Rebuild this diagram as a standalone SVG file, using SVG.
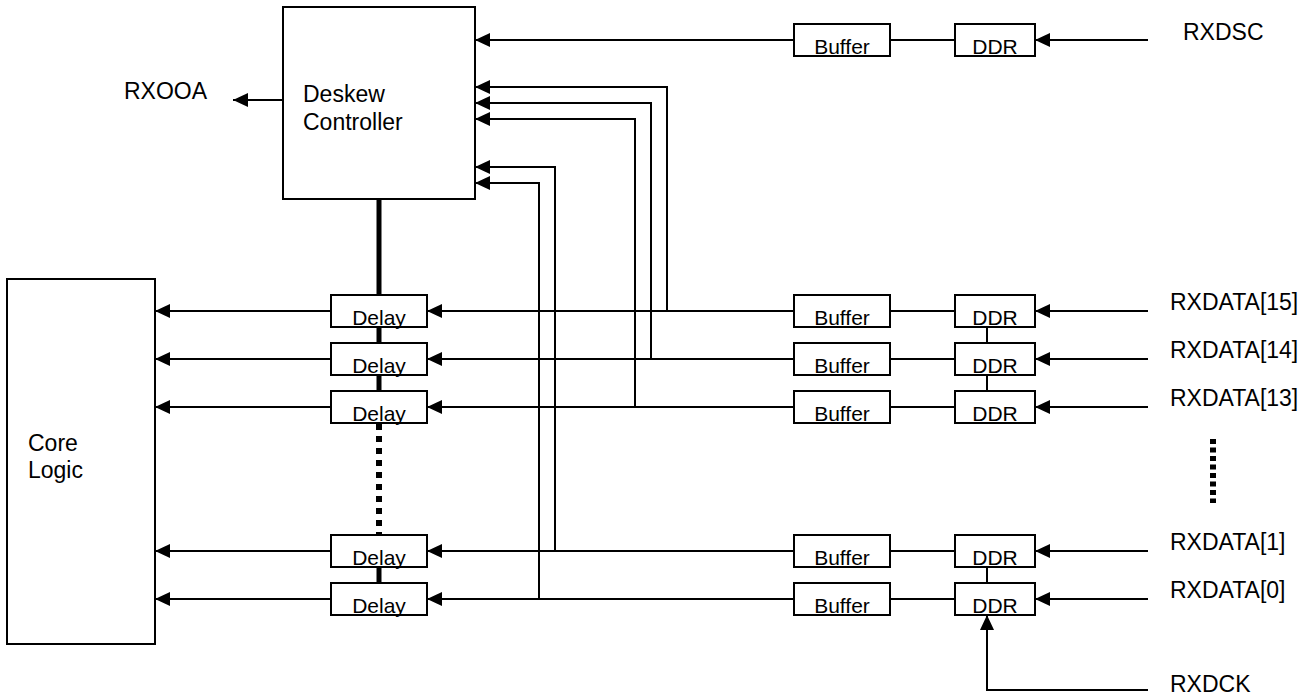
<svg xmlns="http://www.w3.org/2000/svg" width="1315" height="698" viewBox="0 0 1315 698">
<defs>
<marker id="ah" viewBox="0 0 15 14" refX="15" refY="7" markerWidth="15" markerHeight="14" markerUnits="userSpaceOnUse" orient="auto">
<path d="M0,0 L15,7 L0,14 z" fill="#000"/>
</marker>
</defs>
<style>
.box{fill:#fff;stroke:#000;stroke-width:2}
.ln{fill:none;stroke:#000;stroke-width:2}
.ar{fill:none;stroke:#000;stroke-width:2;marker-end:url(#ah)}
.thick{fill:none;stroke:#000;stroke-width:5}
.dots{fill:none;stroke:#000;stroke-width:6}
.lbl{font-family:"Liberation Sans",Arial,sans-serif;font-size:23px;fill:#000}
.bl{font-family:"Liberation Sans",Arial,sans-serif;font-size:21px;fill:#000;text-anchor:middle}
</style>
<rect width="1315" height="698" fill="#fff"/>

<g id="connectors">
<line class="thick" x1="379" y1="199" x2="379" y2="295"/>
<line class="thick" x1="379" y1="327" x2="379" y2="343"/>
<line class="thick" x1="379" y1="375" x2="379" y2="391"/>
<line class="dots" x1="379" y1="424" x2="379" y2="535" stroke-dasharray="6 6"/>
<line class="thick" x1="379" y1="567" x2="379" y2="583"/>
<line class="ar" x1="283" y1="100" x2="233" y2="100"/>
<line class="ar" x1="1148" y1="40" x2="1035" y2="40"/>
<line class="ln" x1="955" y1="40" x2="890" y2="40"/>
<line class="ar" x1="794" y1="40" x2="475" y2="40"/>
<line class="ar" x1="1148" y1="311" x2="1035" y2="311"/>
<line class="ln" x1="955" y1="311" x2="890" y2="311"/>
<line class="ar" x1="794" y1="311" x2="427" y2="311"/>
<line class="ar" x1="331" y1="311" x2="155" y2="311"/>
<line class="ar" x1="1148" y1="359" x2="1035" y2="359"/>
<line class="ln" x1="955" y1="359" x2="890" y2="359"/>
<line class="ar" x1="794" y1="359" x2="427" y2="359"/>
<line class="ar" x1="331" y1="359" x2="155" y2="359"/>
<line class="ar" x1="1148" y1="407" x2="1035" y2="407"/>
<line class="ln" x1="955" y1="407" x2="890" y2="407"/>
<line class="ar" x1="794" y1="407" x2="427" y2="407"/>
<line class="ar" x1="331" y1="407" x2="155" y2="407"/>
<line class="ar" x1="1148" y1="551" x2="1035" y2="551"/>
<line class="ln" x1="955" y1="551" x2="890" y2="551"/>
<line class="ar" x1="794" y1="551" x2="427" y2="551"/>
<line class="ar" x1="331" y1="551" x2="155" y2="551"/>
<line class="ar" x1="1148" y1="599" x2="1035" y2="599"/>
<line class="ln" x1="955" y1="599" x2="890" y2="599"/>
<line class="ar" x1="794" y1="599" x2="427" y2="599"/>
<line class="ar" x1="331" y1="599" x2="155" y2="599"/>
<polyline class="ar" points="667,311 667,87 475,87"/>
<polyline class="ar" points="651,359 651,103 475,103"/>
<polyline class="ar" points="635,407 635,119 475,119"/>
<polyline class="ar" points="555,551 555,167 475,167"/>
<polyline class="ar" points="539,599 539,183 475,183"/>
<line class="ln" x1="987" y1="327" x2="987" y2="343"/>
<line class="ln" x1="987" y1="375" x2="987" y2="391"/>
<line class="ln" x1="987" y1="567" x2="987" y2="583"/>
<polyline class="ar" points="1148,690 987,690 987,615"/>
<line class="dots" x1="1213" y1="439" x2="1213" y2="503" stroke-dasharray="5 3.5"/>
</g>

<g id="deskew">
<rect class="box" x="283" y="7" width="192" height="192"/>
<text class="lbl" x="303" y="102">Deskew</text>
<text class="lbl" x="303" y="130">Controller</text>
</g>
<g id="core">
<rect class="box" x="7" y="279" width="148" height="365"/>
<text class="lbl" x="28" y="451">Core</text>
<text class="lbl" x="28" y="478">Logic</text>
</g>

<g id="buffer-dsc"><rect class="box" x="794" y="24" width="96" height="32"/><text class="bl" x="842" y="54">Buffer</text></g>
<g id="ddr-dsc"><rect class="box" x="955" y="24" width="80" height="32"/><text class="bl" x="995" y="54">DDR</text></g>

<g id="delay-15"><rect class="box" x="331" y="295" width="96" height="32"/><text class="bl" x="379" y="325">Delay</text></g>
<g id="buffer-15"><rect class="box" x="794" y="295" width="96" height="32"/><text class="bl" x="842" y="325">Buffer</text></g>
<g id="ddr-15"><rect class="box" x="955" y="295" width="80" height="32"/><text class="bl" x="995" y="325">DDR</text></g>

<g id="delay-14"><rect class="box" x="331" y="343" width="96" height="32"/><text class="bl" x="379" y="373">Delay</text></g>
<g id="buffer-14"><rect class="box" x="794" y="343" width="96" height="32"/><text class="bl" x="842" y="373">Buffer</text></g>
<g id="ddr-14"><rect class="box" x="955" y="343" width="80" height="32"/><text class="bl" x="995" y="373">DDR</text></g>

<g id="delay-13"><rect class="box" x="331" y="391" width="96" height="32"/><text class="bl" x="379" y="421">Delay</text></g>
<g id="buffer-13"><rect class="box" x="794" y="391" width="96" height="32"/><text class="bl" x="842" y="421">Buffer</text></g>
<g id="ddr-13"><rect class="box" x="955" y="391" width="80" height="32"/><text class="bl" x="995" y="421">DDR</text></g>

<g id="delay-1"><rect class="box" x="331" y="535" width="96" height="32"/><text class="bl" x="379" y="565">Delay</text></g>
<g id="buffer-1"><rect class="box" x="794" y="535" width="96" height="32"/><text class="bl" x="842" y="565">Buffer</text></g>
<g id="ddr-1"><rect class="box" x="955" y="535" width="80" height="32"/><text class="bl" x="995" y="565">DDR</text></g>

<g id="delay-0"><rect class="box" x="331" y="583" width="96" height="32"/><text class="bl" x="379" y="613">Delay</text></g>
<g id="buffer-0"><rect class="box" x="794" y="583" width="96" height="32"/><text class="bl" x="842" y="613">Buffer</text></g>
<g id="ddr-0"><rect class="box" x="955" y="583" width="80" height="32"/><text class="bl" x="995" y="613">DDR</text></g>

<g id="labels">
<text class="lbl" x="124" y="99">RXOOA</text>
<text class="lbl" x="1183" y="40">RXDSC</text>
<text class="lbl" x="1170" y="310">RXDATA[15]</text>
<text class="lbl" x="1170" y="358">RXDATA[14]</text>
<text class="lbl" x="1170" y="406">RXDATA[13]</text>
<text class="lbl" x="1170" y="550">RXDATA[1]</text>
<text class="lbl" x="1170" y="598">RXDATA[0]</text>
<text class="lbl" x="1170" y="692">RXDCK</text>
</g>
</svg>
